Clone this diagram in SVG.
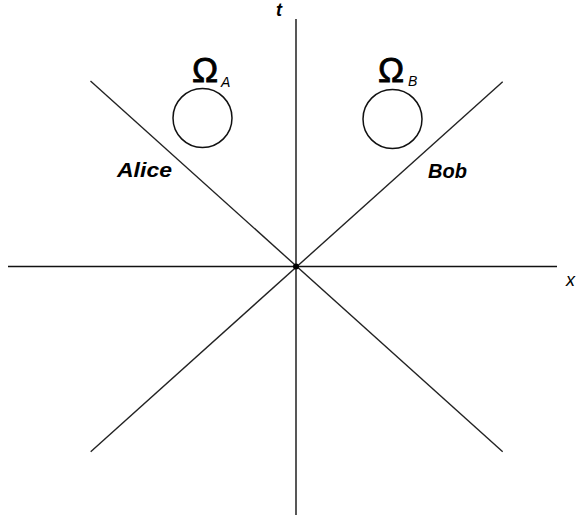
<svg xmlns="http://www.w3.org/2000/svg" width="586" height="520" viewBox="0 0 586 520">
<style>
.ax{stroke:#111;stroke-width:1.4;fill:none}
.ln{stroke:#222;stroke-width:1.4;fill:none}
.circ{stroke:#111;stroke-width:1.5;fill:none}
.lbl{font-family:"Liberation Sans",Arial,sans-serif;font-style:italic;font-weight:bold;fill:#000}
.om{font-family:"Liberation Sans",Arial,sans-serif;fill:#000;stroke:#000;stroke-width:0.8}
.sub{font-family:"Liberation Sans",Arial,sans-serif;font-style:italic;fill:#000}
</style>
<rect width="586" height="520" fill="#fff"/>
<g id="connectors">
<line class="ax" x1="296" y1="19" x2="296" y2="515"/>
<line class="ax" x1="8" y1="266.5" x2="557" y2="266.5"/>
<line class="ln" x1="90.5" y1="81" x2="502.7" y2="451.7"/>
<line class="ln" x1="90.7" y1="451.7" x2="502.7" y2="81.7"/>
<circle cx="296" cy="266.5" r="3" fill="#000"/>
</g>
<g id="axis-t"><text class="lbl" x="276" y="16" font-size="18">t</text></g>
<g id="axis-x"><text class="sub" x="566" y="286" font-size="18">x</text></g>
<g id="omega-a">
<circle class="circ" cx="202.5" cy="118" r="29.5"/>
<text class="om" x="192" y="82" font-size="35">Ω</text>
<text class="sub" x="221" y="87" font-size="14">A</text>
</g>
<g id="omega-b">
<circle class="circ" cx="392.5" cy="119" r="29.5"/>
<text class="om" x="378" y="82" font-size="35">Ω</text>
<text class="sub" x="408" y="86" font-size="14">B</text>
</g>
<g id="alice"><text class="lbl" x="117" y="177" font-size="20" textLength="55" lengthAdjust="spacingAndGlyphs">Alice</text></g>
<g id="bob"><text class="lbl" x="428" y="178" font-size="20">Bob</text></g>
</svg>
